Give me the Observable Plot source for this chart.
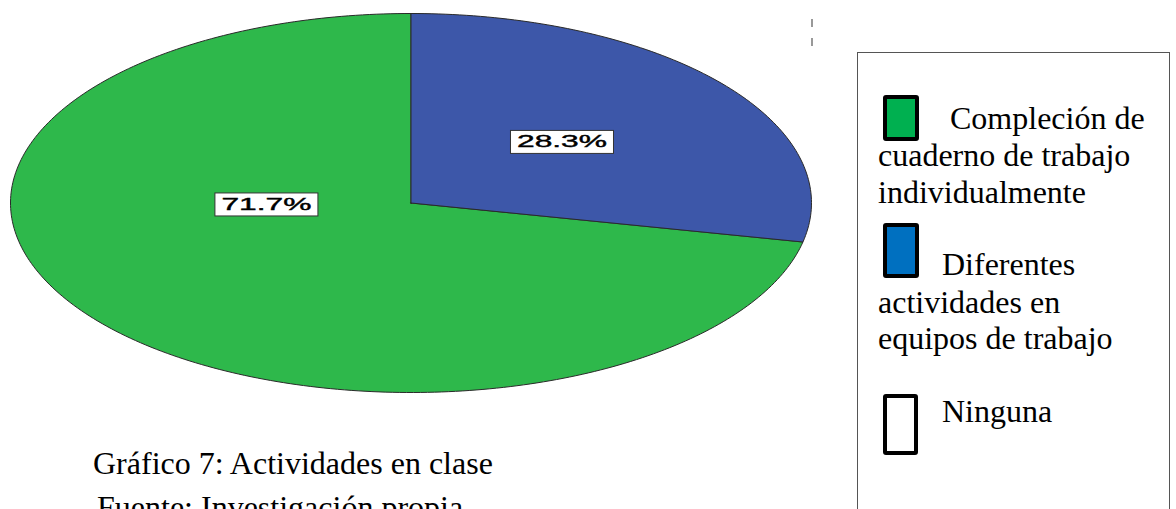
<!DOCTYPE html>
<html>
<head>
<meta charset="utf-8">
<script src="https://cdn.jsdelivr.net/npm/d3@7"></script>
<script src="https://cdn.jsdelivr.net/npm/@observablehq/plot@0.6"></script>
<style>
  body { margin:0; width:1176px; height:509px; overflow:hidden; position:relative; background:#fff; }
  .serif { font-family: "Liberation Serif", "Times New Roman", serif; font-size:32px; color:#000; position:absolute; white-space:nowrap; }
  .sw { position:absolute; box-sizing:border-box; border:4px solid #000; border-radius:3px; }
  #legend { position:absolute; left:857px; top:52px; width:313px; height:520px; border:1px solid #555; box-sizing:border-box; }
  .tick { position:absolute; left:811px; width:2px; height:8px; background:#999; }
</style>
</head>
<body>
<div id="chart" style="position:absolute;left:0;top:0"></div>

<div class="tick" style="top:19px"></div>
<div class="tick" style="top:38px"></div>

<div class="serif" style="left:93px;top:445px;line-height:37px">Gráfico 7: Actividades en clase</div>
<div class="serif" style="left:97px;top:489px;line-height:37px">Fuente: Investigación propia</div>

<div id="legend"></div>
<div class="sw" style="left:883px;top:95px;width:36px;height:46px;background:#00b050"></div>
<div class="serif" style="left:950px;top:100px;line-height:37px">Compleción de</div>
<div class="serif" style="left:878px;top:137px;line-height:37px">cuaderno de trabajo<br>individualmente</div>
<div class="sw" style="left:883px;top:223px;width:36px;height:55px;background:#0070c0"></div>
<div class="serif" style="left:942px;top:246px;line-height:37px">Diferentes</div>
<div class="serif" style="left:878px;top:284px;line-height:36px">actividades en<br>equipos de trabajo</div>
<div class="sw" style="left:883px;top:394px;width:35px;height:61px;background:#fff"></div>
<div class="serif" style="left:942px;top:393px;line-height:37px">Ninguna</div>

<script>
// Data
const categories = ["Diferentes actividades en equipos de trabajo", "Compleción de cuaderno de trabajo individualmente"];
const percents = [28.3, 71.7];
const sliceColors = ["#3d57a9", "#2eb84b"];

// Label placement (layout config, data units of the unit pie)
const labelPos = [[0.377, 0.322], [-0.361, -0.008]];

// Build slice polygons from percentages (start at 12 o'clock, clockwise)
const total = d3.sum(percents);
const slices = [];
let start = 0;
percents.forEach((p, i) => {
  const end = start + (p / total) * 2 * Math.PI;
  const pts = [{cat: categories[i], x: 0, y: 0}];
  const n = Math.max(2, Math.ceil((end - start) / (Math.PI / 180)));
  for (let k = 0; k <= n; k++) {
    const a = start + (end - start) * k / n;
    pts.push({cat: categories[i], x: Math.sin(a), y: Math.cos(a)});
  }
  pts.push({cat: categories[i], x: 0, y: 0});
  slices.push(pts);
  start = end;
});

const labels = percents.map((p, i) => ({x: labelPos[i][0], y: labelPos[i][1], t: p.toFixed(1) + "%"}));

const chart = Plot.plot({
  width: 840,
  height: 420,
  margin: 0,
  x: {domain: [-1, 1], range: [10, 811], axis: null},
  y: {domain: [-1, 1], range: [392, 13], axis: null},
  marks: [
    Plot.line(slices[1], {x: "x", y: "y", fill: sliceColors[1], stroke: "#2a2a2a", strokeWidth: 1, curve: "linear-closed"}),
    Plot.line(slices[0], {x: "x", y: "y", fill: sliceColors[0], stroke: "#2a2a2a", strokeWidth: 1, curve: "linear-closed"}),
    Plot.text(labels, {x: "x", y: "y", text: "t", fontSize: 17, fontFamily: "Liberation Sans, Arial, sans-serif", fill: "#000", textAnchor: "middle", className: "pct"})
  ]
});
document.getElementById("chart").appendChild(chart);

// Stretch labels horizontally like the reference and box them
d3.select(chart).selectAll("g.pct text").each(function() {
  const node = this;
  const t = d3.select(node);
  t.attr("textLength", 90).attr("lengthAdjust", "spacingAndGlyphs")
   .attr("stroke", "#000").attr("stroke-width", 0.4);
  const b = node.getBBox();
  const cx = b.x + b.width / 2;
  const cy = b.y + b.height / 2;
  const r = document.createElementNS("http://www.w3.org/2000/svg", "rect");
  node.parentNode.insertBefore(r, node);
  d3.select(r)
    .attr("transform", node.getAttribute("transform"))
    .attr("x", cx - 51.5).attr("y", cy - 11.5)
    .attr("width", 103).attr("height", 23)
    .attr("fill", "#fff").attr("stroke", "#333").attr("stroke-width", 1);
});
</script>
</body>
</html>
